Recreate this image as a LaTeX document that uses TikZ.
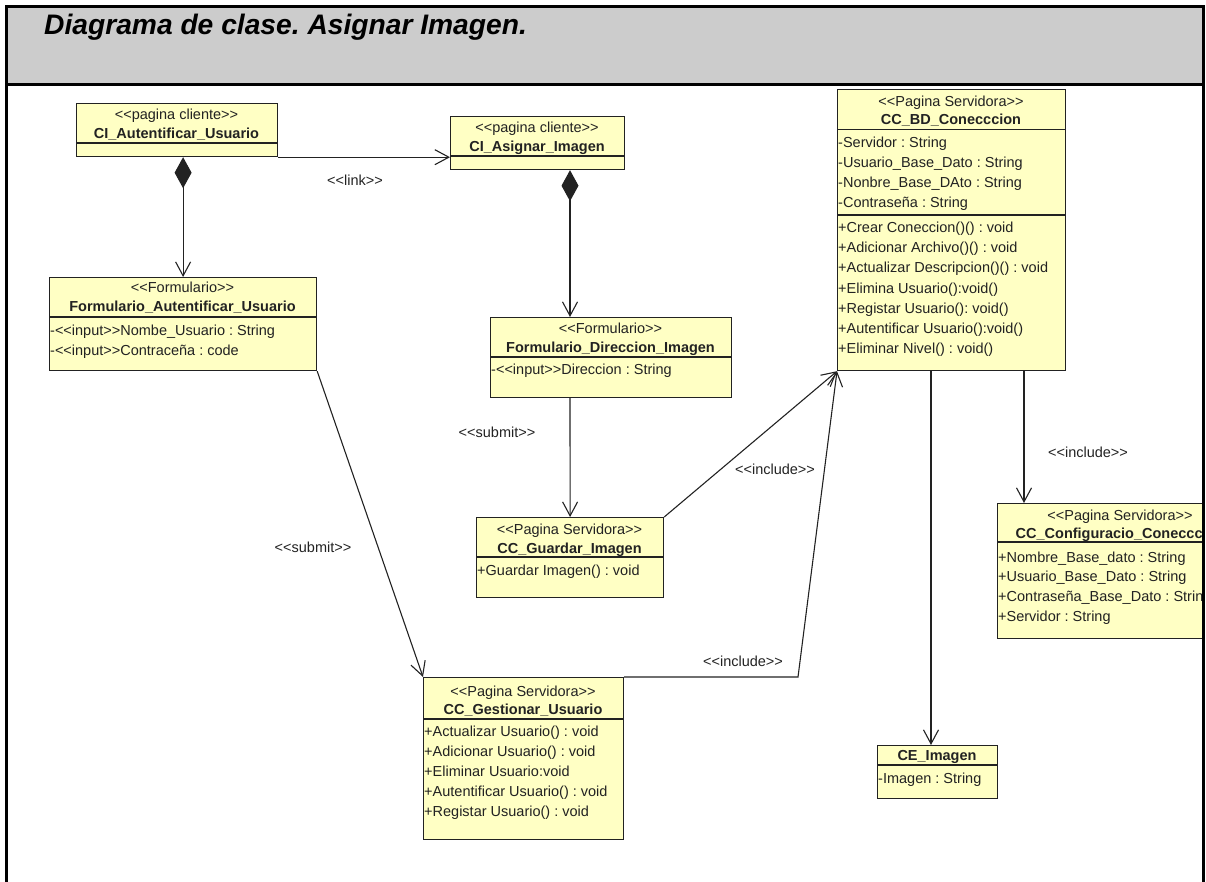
\documentclass[tikz,border=0pt]{standalone}
\usepackage{fontspec}
\setmainfont{Liberation Sans}
\usetikzlibrary{arrows.meta}
\definecolor{hdrgray}{HTML}{CCCCCC}
\definecolor{boxfill}{HTML}{FFFFC4}
\definecolor{ink}{HTML}{222222}
\newcommand\umlsz{\fontsize{14.5}{17}\selectfont}
% guillemet-free stereotype brackets
\newcommand\stOpen{<{}<}
\newcommand\stClose{>{}>}
\frenchspacing
\begin{document}
\begin{tikzpicture}[x=1pt,y=-1pt,
  umlbox/.style={draw=ink,fill=boxfill,line width=1.2pt,inner sep=0pt,anchor=north west},
  sepline/.style={draw=ink,line width=1.1pt},
  stereo/.style={inner sep=0pt,anchor=base,font=\umlsz,text=ink},
  cname/.style={inner sep=0pt,anchor=base,font=\umlsz\bfseries,text=ink},
  member/.style={inner sep=0pt,anchor=base west,font=\umlsz,text=ink},
  conn/.style={draw=ink,line width=1.1pt},
  dep/.style={conn,-{Straight Barb[length=14pt,width=15pt]}},
  comp/.style={conn,{Diamond[length=31pt,width=17pt]}-{Straight Barb[length=14pt,width=15pt]}},
  lbl/.style={inner sep=0pt,anchor=base,font=\umlsz,text=ink}
]
\useasboundingbox (0,0) rectangle (1206,882);

% header band
\fill[hdrgray] (8,8) rectangle (1202,84);
\node[anchor=base west,inner sep=0pt,font=\fontsize{28.2}{31}\selectfont\bfseries\itshape] (title) at (44,35) {Diagrama de clase. Asignar Imagen.};

% ---- CI_Autentificar_Usuario
\node[umlbox,minimum width=201pt,minimum height=53pt] (ciaut) at (76,103) {};
\draw[sepline] (76,143) -- (277,143);
\node[stereo] (ciaut-s) at (176.5,120) {\stOpen pagina cliente\stClose};
\node[cname] (ciaut-n) at (176.5,138.5) {CI\_Autentificar\_Usuario};

% ---- CI_Asignar_Imagen
\node[umlbox,minimum width=174pt,minimum height=53pt] (ciasig) at (450,116) {};
\draw[sepline] (450,156) -- (624,156);
\node[stereo] (ciasig-s) at (537,132.5) {\stOpen pagina cliente\stClose};
\node[cname] (ciasig-n) at (537,151.5) {CI\_Asignar\_Imagen};

% ---- Formulario_Autentificar_Usuario
\node[umlbox,minimum width=267pt,minimum height=93pt] (fau) at (49,277) {};
\draw[sepline] (49,317) -- (316,317);
\node[stereo] (fau-s) at (182.5,293) {\stOpen Formulario\stClose};
\node[cname] (fau-n) at (182.5,312) {Formulario\_Autentificar\_Usuario};
\node[member] (fau-a1) at (50,335.5) {-\stOpen input\stClose Nombe\_Usuario : String};
\node[member] (fau-a2) at (50,355) {-\stOpen input\stClose Contraceña : code};

% ---- Formulario_Direccion_Imagen
\node[umlbox,minimum width=241pt,minimum height=80pt] (fdi) at (490,317) {};
\draw[sepline] (490,357) -- (731,357);
\node[stereo] (fdi-s) at (610.5,333) {\stOpen Formulario\stClose};
\node[cname] (fdi-n) at (610.5,352) {Formulario\_Direccion\_Imagen};
\node[member] (fdi-a1) at (491,374.5) {-\stOpen input\stClose Direccion : String};

% ---- CC_BD_Conecccion
\node[umlbox,minimum width=228pt,minimum height=281pt] (bd) at (837,89) {};
\draw[sepline] (837,129.5) -- (1065,129.5);
\draw[sepline] (837,215) -- (1065,215);
\node[stereo] (bd-s) at (951,106.5) {\stOpen Pagina Servidora\stClose};
\node[cname] (bd-n) at (951,125) {CC\_BD\_Conecccion};
\node[member] (bd-a1) at (838,147.5) {-Servidor : String};
\node[member] (bd-a2) at (838,167.5) {-Usuario\_Base\_Dato : String};
\node[member] (bd-a3) at (838,187.5) {-Nonbre\_Base\_DAto : String};
\node[member] (bd-a4) at (838,207.5) {-Contraseña : String};
\node[member] (bd-m1) at (838,232.5) {+Crear Coneccion()() : void};
\node[member] (bd-m2) at (838,252.5) {+Adicionar Archivo()() : void};
\node[member] (bd-m3) at (838,273) {+Actualizar Descripcion()() : void};
\node[member] (bd-m4) at (838,293.5) {+Elimina Usuario():void()};
\node[member] (bd-m5) at (838,313) {+Registar Usuario(): void()};
\node[member] (bd-m6) at (838,333) {+Autentificar Usuario():void()};
\node[member] (bd-m7) at (838,353) {+Eliminar Nivel() : void()};

% ---- CC_Guardar_Imagen
\node[umlbox,minimum width=187pt,minimum height=80pt] (gua) at (476,517) {};
\draw[sepline] (476,557) -- (663,557);
\node[stereo] (gua-s) at (569.5,534) {\stOpen Pagina Servidora\stClose};
\node[cname] (gua-n) at (569.5,553) {CC\_Guardar\_Imagen};
\node[member] (gua-m1) at (477,575.5) {+Guardar Imagen() : void};

% ---- CC_Gestionar_Usuario
\node[umlbox,minimum width=200pt,minimum height=162pt] (ges) at (423,677) {};
\draw[sepline] (423,719) -- (623,719);
\node[stereo] (ges-s) at (523,696) {\stOpen Pagina Servidora\stClose};
\node[cname] (ges-n) at (523,714.5) {CC\_Gestionar\_Usuario};
\node[member] (ges-m1) at (424,736.5) {+Actualizar Usuario() : void};
\node[member] (ges-m2) at (424,756) {+Adicionar Usuario() : void};
\node[member] (ges-m3) at (424,776) {+Eliminar Usuario:void};
\node[member] (ges-m4) at (424,796) {+Autentificar Usuario() : void};
\node[member] (ges-m5) at (424,816.5) {+Registar Usuario() : void};

% ---- CE_Imagen
\node[umlbox,minimum width=120pt,minimum height=53pt] (ceimg) at (877,745) {};
\draw[sepline] (877,765) -- (997,765);
\node[cname] (ceimg-n) at (937,760) {CE\_Imagen};
\node[member] (ceimg-a1) at (878,783) {-Imagen : String};

% ---- CC_Configuracio_Conecccion (runs past the frame edge)
\begin{scope}
  \clip (8,86) rectangle (1202,882);
  \node[umlbox,minimum width=246pt,minimum height=135pt] (conf) at (997,503) {};
  \draw[sepline] (997,542) -- (1243,542);
  \node[stereo] (conf-s) at (1120,520.5) {\stOpen Pagina Servidora\stClose};
  \node[cname] (conf-n) at (1120,538.5) {CC\_Configuracio\_Conecccion};
  \node[member] (conf-a1) at (998,562.5) {+Nombre\_Base\_dato : String};
  \node[member] (conf-a2) at (998,581.5) {+Usuario\_Base\_Dato : String};
  \node[member] (conf-a3) at (998,601.5) {+Contraseña\_Base\_Dato : String};
  \node[member] (conf-a4) at (998,621.5) {+Servidor : String};
\end{scope}

% ---- connectors
\draw[dep] (ciaut.south east) -- (ciaut.south east -| ciasig.west);
\node[lbl] (l-link) at (355,185.5) {\stOpen link\stClose};

\draw[comp] (ciaut.south -| fau.north) -- (fau.north);
\draw[comp] ([xshift=120pt]ciasig.south west) -- ([xshift=80pt]fdi.north west);

\draw[dep] ([xshift=80pt]fdi.south west) -- (gua.north);
\node[lbl] (l-sub1) at (497,437) {\stOpen submit\stClose};

\draw[dep] (fau.south east) -- (ges.north west);
\node[lbl] (l-sub2) at (313,552) {\stOpen submit\stClose};

\draw[dep] (gua.north east) -- (bd.south west);
\node[lbl] (l-inc1) at (775,474) {\stOpen include\stClose};

\coordinate (bend) at (798,677);
\draw[dep] (ges.north east) -- (bend) -- (bd.south west);
\node[lbl] (l-inc2) at (743,666) {\stOpen include\stClose};

\draw[dep] ([xshift=94pt]bd.south west) -- ([xshift=54pt]ceimg.north west);
\draw[dep] ([xshift=187pt]bd.south west) -- ([xshift=27pt]conf.north west);
\node[lbl] (l-inc3) at (1088,457) {\stOpen include\stClose};

% ---- outer frame
\draw[line width=3.5pt,black] (6.5,882) -- (6.5,6.5) -- (1203.5,6.5) -- (1203.5,882);
\draw[line width=3pt,black] (6.5,84.7) -- (1203.5,84.7);
\end{tikzpicture}
\end{document}
